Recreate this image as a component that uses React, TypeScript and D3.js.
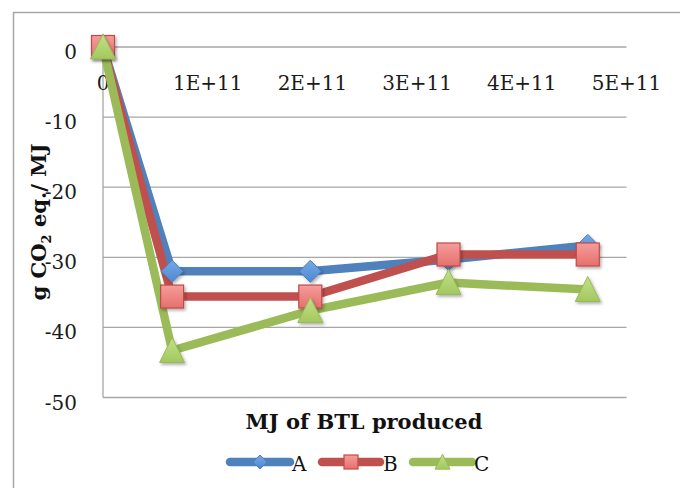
import React from "react";
import * as d3 from "d3";

const xValues = [0, 0.66e11, 1.98e11, 3.3e11, 4.63e11];
const seriesA = [0, -32.0, -32.0, -30.3, -28.3];
const seriesB = [0, -35.6, -35.6, -29.6, -29.6];
const seriesC = [0, -43.3, -37.6, -33.6, -34.6];
const seriesNames = ["A", "B", "C"];
const xTicks = [0, 1e11, 2e11, 3e11, 4e11, 5e11];
const xTickLabels = ["0", "1E+11", "2E+11", "3E+11", "4E+11", "5E+11"];
const yTicks = [0, -10, -20, -30, -40, -50];

const W = 680;
const H = 488;
const plot = { left: 103, right: 626.5, top: 47, bottom: 397.5 };
const FONT = "'DejaVu Serif', 'Liberation Serif', serif";

const styles = [
  { line: "#4F81BD", fill: "#5B93D8", stroke: "#4A7EBB", shape: "diamond" },
  { line: "#C0504D", fill: "#EE8583", stroke: "#BE4B48", shape: "square" },
  { line: "#9BBB59", fill: "#AFD36A", stroke: "#98B954", shape: "triangle" },
];

function Marker({ shape, x, y, s, fill, stroke }: any) {
  const h = s / 2;
  if (shape === "diamond") {
    return (
      <path
        d={`M${x},${y - h}L${x + h},${y}L${x},${y + h}L${x - h},${y}Z`}
        fill={fill}
        stroke={stroke}
        strokeWidth={1}
      />
    );
  }
  if (shape === "square") {
    return <rect x={x - h} y={y - h} width={s} height={s} fill={fill} stroke={stroke} strokeWidth={1.2} />;
  }
  return (
    <path
      d={`M${x},${y - h * 1.05}L${x + h},${y + h * 0.95}L${x - h},${y + h * 0.95}Z`}
      fill={fill}
      stroke={stroke}
      strokeWidth={1}
    />
  );
}

export default function App() {
  const x = d3.scaleLinear().domain([0, 5e11]).range([plot.left, plot.right]);
  const y = d3.scaleLinear().domain([0, -50]).range([plot.top, plot.bottom]);
  const data = [seriesA, seriesB, seriesC];
  const line = d3
    .line<number>()
    .x((_, i) => x(xValues[i]))
    .y((d) => y(d));

  const legendItems = [
    { x0: 230, x1: 290, tx: 292 },
    { x0: 322, x1: 380, tx: 383 },
    { x0: 413, x1: 472, tx: 474 },
  ];
  const legendY = 462;

  return (
    <svg
      width={W}
      height={H}
      style={{ position: "absolute", left: 0, top: 0, background: "#fff" }}
    >
      <defs>
        <filter id="sh" x="-50%" y="-50%" width="200%" height="200%">
          <feDropShadow dx="1.5" dy="2" stdDeviation="1.5" floodColor="#000" floodOpacity="0.3" />
        </filter>
        <linearGradient id="gB" x1="0" y1="0" x2="0" y2="1">
          <stop offset="0" stopColor="#F59D9B" />
          <stop offset="1" stopColor="#E5706D" />
        </linearGradient>
        <linearGradient id="gC" x1="0" y1="0" x2="0" y2="1">
          <stop offset="0" stopColor="#C3E08A" />
          <stop offset="1" stopColor="#A3C85E" />
        </linearGradient>
        <linearGradient id="gA" x1="0" y1="0" x2="0" y2="1">
          <stop offset="0" stopColor="#74A9E6" />
          <stop offset="1" stopColor="#4E88CF" />
        </linearGradient>
      </defs>
      {/* outer frame */}
      <path d={`M13.5,${H}V12.5H${W}`} fill="none" stroke="#A6A6A6" strokeWidth={1.5} />

      {/* gridlines */}
      {yTicks.map((t) => (
        <line
          key={t}
          x1={plot.left}
          x2={plot.right}
          y1={y(t)}
          y2={y(t)}
          stroke="#A6A6A6"
          strokeWidth={1.3}
        />
      ))}
      <line x1={plot.left} x2={plot.left} y1={plot.top} y2={plot.bottom} stroke="#A6A6A6" strokeWidth={1.3} />

      {/* y tick labels */}
      {yTicks.map((t) => (
        <text
          key={t}
          x={77}
          y={y(t) + 12}
          textAnchor="end"
          fontFamily={FONT}
          fontSize={20}
          fill="#1a1a1a"
        >
          {t}
        </text>
      ))}
      {/* x tick labels */}
      {xTicks.map((t, i) => (
        <text
          key={t}
          x={x(t)}
          y={90}
          textAnchor="middle"
          fontFamily={FONT}
          fontSize={20}
          fill="#1a1a1a"
        >
          {xTickLabels[i]}
        </text>
      ))}

      {/* series lines */}
      {data.map((s, i) => (
        <path
          key={"l" + i}
          d={line(s) || ""}
          fill="none"
          stroke={styles[i].line}
          strokeWidth={8.5}
          strokeLinejoin="round"
          strokeLinecap="round"
        />
      ))}
      {/* markers */}
      {data.map((s, i) => (
        <g key={"m" + i} filter="url(#sh)">
          {s.map((v, j) => (
            <Marker
              key={j}
              shape={styles[i].shape}
              x={x(xValues[j])}
              y={y(v)}
              s={i === 0 ? 22 : i === 1 ? 23 : 25}
              fill={i === 0 ? "url(#gA)" : i === 1 ? "url(#gB)" : "url(#gC)"}
              stroke={styles[i].stroke}
            />
          ))}
        </g>
      ))}

      {/* axis titles */}
      <text
        x={364}
        y={429}
        textAnchor="middle"
        fontFamily={FONT}
        fontSize={21}
        fontWeight="bold"
        fill="#111"
      >
        MJ of BTL produced
      </text>
      <text
        transform="translate(46,222) rotate(-90)"
        textAnchor="middle"
        fontFamily={FONT}
        fontSize={21}
        fontWeight="bold"
        fill="#111"
      >
        g CO<tspan fontSize={13} dy={5}>2</tspan>
        <tspan dy={-5}> eq./ MJ</tspan>
      </text>

      {/* legend */}
      {legendItems.map((it, i) => (
        <g key={"lg" + i}>
          <line
            x1={it.x0}
            x2={it.x1}
            y1={legendY}
            y2={legendY}
            stroke={styles[i].line}
            strokeWidth={8.5}
            strokeLinecap="round"
          />
          <Marker
            shape={styles[i].shape}
            x={(it.x0 + it.x1) / 2}
            y={legendY}
            s={i === 2 ? 15 : 14}
            fill={i === 0 ? "url(#gA)" : i === 1 ? "url(#gB)" : "url(#gC)"}
            stroke={styles[i].stroke}
          />
          <text x={it.tx} y={legendY + 9} fontFamily={FONT} fontSize={20} fill="#111">
            {seriesNames[i]}
          </text>
        </g>
      ))}
    </svg>
  );
}
